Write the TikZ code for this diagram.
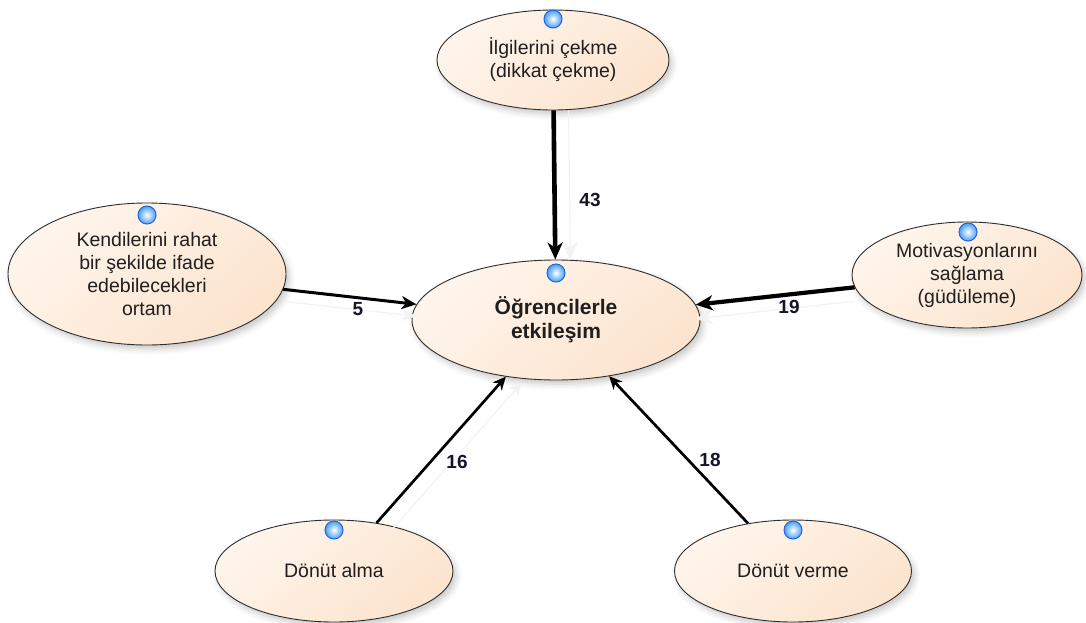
\documentclass[tikz,border=0pt]{standalone}
\usepackage{fontspec}
\setmainfont{Liberation Sans}
\usetikzlibrary{shapes.geometric, arrows.meta, shadows.blur}

\definecolor{peachL}{RGB}{255,245,236}
\definecolor{peachD}{RGB}{252,228,206}
\definecolor{rim}{RGB}{45,45,45}
\definecolor{dotrim}{RGB}{35,100,215}
\definecolor{dotmid}{RGB}{70,160,245}
\definecolor{numink}{RGB}{20,20,45}

\begin{document}
\begin{tikzpicture}[x=1pt, y=-1pt,
  topic/.style={ellipse, draw=rim, line width=0.9pt, inner sep=0pt,
    align=center, text=black!88,
    font=\fontsize{19.5}{23}\selectfont,
    top color=peachL, bottom color=peachD, shading angle=40,
    blur shadow={shadow xshift=3pt, shadow yshift=-4pt,
      shadow blur radius=6pt, shadow opacity=22}},
  hub/.style={topic, font=\bfseries\fontsize{21}{24}\selectfont},
  marker/.style={circle, minimum size=18pt, inner sep=0pt,
    draw=dotrim, line width=1pt, inner color=white, outer color=dotmid},
  link/.style={draw=black, line cap=butt},
  ghost/.style={preaction={draw=black!5, line width=1.2pt,
    transform canvas={shift={#1}}}},
  bigtip/.style={-{Stealth[length=17pt, width=15pt, inset=5pt]}},
  midtip/.style={-{Stealth[length=15pt, width=13pt, inset=4.5pt]}},
  smalltip/.style={-{Stealth[length=13pt, width=12pt, inset=4pt]}},
  count/.style={font=\bfseries\fontsize{19}{19}\selectfont, text=numink}
]
\useasboundingbox (0,0) rectangle (1086,623);

% ellipses
\node[topic, minimum width=232pt, minimum height=100pt] (attn) at (553,60)
  {İlgilerini çekme\\(dikkat çekme)};
\node[hub, minimum width=288pt, minimum height=120pt] (core) at (556,320)
  {Öğrencilerle\\etkileşim};
\node[topic, minimum width=278pt, minimum height=142pt] (env) at (147,274)
  {Kendilerini rahat\\bir şekilde ifade\\edebilecekleri\\ortam};
\node[topic, minimum width=230pt, minimum height=106pt] (motiv) at (967,275)
  {Motivasyonlarını\\sağlama\\(güdüleme)};
\node[topic, minimum width=238pt, minimum height=102pt] (recv) at (334,571)
  {Dönüt alma};
\node[topic, minimum width=237pt, minimum height=102pt] (give) at (793,571)
  {Dönüt verme};

% connectors into the hub
\draw[link, bigtip, line width=4.6pt, ghost={(15pt,0pt)}] (attn) -- (core);
\draw[link, midtip, line width=3pt, ghost={(0pt,-12pt)}] (env) -- (core);
\draw[link, bigtip, line width=4.2pt, ghost={(0pt,-14pt)}] (motiv) -- (core);
\draw[link, smalltip, line width=2.7pt, ghost={(16pt,-6pt)}] (recv) -- (core);
\draw[link, smalltip, line width=2.7pt] (give) -- (core);

% weights
\node[count] (w43) at (590,200) {43};
\node[count] (w5) at (358,309) {5};
\node[count] (w19) at (789,307) {19};
\node[count] (w16) at (457,462) {16};
\node[count] (w18) at (710,460) {18};

% blue markers
\node[marker] (m1) at (553,19) {};
\node[marker] (m2) at (556,273) {};
\node[marker] (m3) at (147,215) {};
\node[marker] (m4) at (968,232) {};
\node[marker] (m5) at (334,530) {};
\node[marker] (m6) at (793,530) {};
\end{tikzpicture}
\end{document}
